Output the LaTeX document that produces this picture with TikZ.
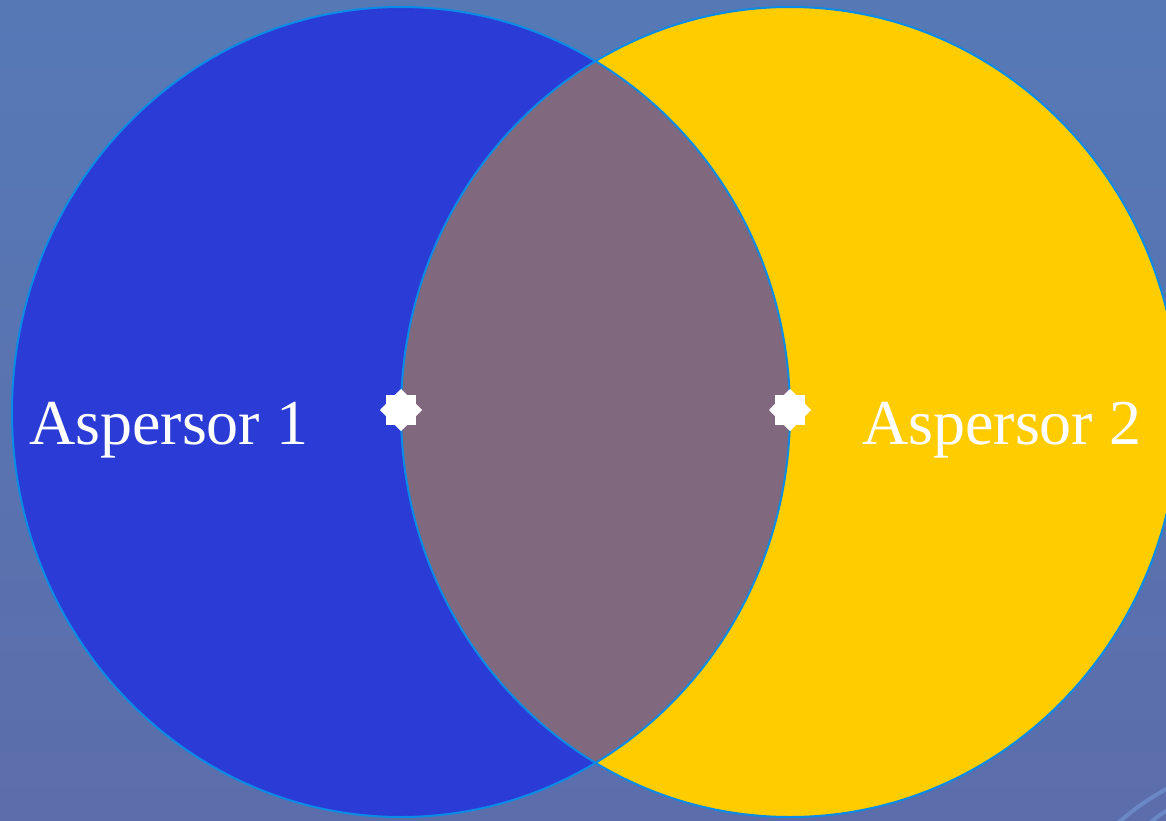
\documentclass[tikz,border=0pt]{standalone}
\usepackage{fontspec}
\setmainfont{Liberation Serif}
\usetikzlibrary{shapes.geometric}
\definecolor{bgtop}{HTML}{5679B6}
\definecolor{bgbot}{HTML}{5C6DAB}
\definecolor{cblue}{HTML}{2B3BD6}
\definecolor{cyellow}{HTML}{FFCC00}
\definecolor{clens}{HTML}{80687F}
\definecolor{cline}{HTML}{0A8CE6}
\definecolor{cfaint}{HTML}{6A88C6}
\tikzset{
  outline/.style={draw=cline, line width=2pt},
  marker/.style={star, star points=8, star point ratio=1.3, minimum size=42pt, inner sep=0pt, fill=white, draw=none},
  label/.style={text=white, font=\fontsize{64}{70}\selectfont, inner sep=0pt, anchor=base west}
}
\begin{document}
\begin{tikzpicture}[x=1pt,y=-1pt]
\useasboundingbox (0,0) rectangle (1166,821);
\shade[top color=bgtop, bottom color=bgbot] (0,0) rectangle (1166,821);
% faint background arcs
\draw[cfaint, line width=4pt] (1118,823) .. controls (1135,808) and (1150,798) .. (1168,788);
\draw[cfaint, line width=4pt] (1150,823) .. controls (1157,817) and (1162,813) .. (1168,810);
% circles
\fill[cblue] (401,412) ellipse [x radius=389, y radius=405];
\fill[cyellow] (790,412) ellipse [x radius=389, y radius=405];
\begin{scope}
  \clip (401,412) ellipse [x radius=389, y radius=405];
  \fill[clens] (790,412) ellipse [x radius=389, y radius=405];
\end{scope}
\draw[outline] (401,412) ellipse [x radius=389, y radius=405];
\draw[outline] (790,412) ellipse [x radius=389, y radius=405];
% markers
\node[marker] (s1) at (401,410) {};
\node[marker] (s2) at (790,410) {};
% labels
\node[label] (a1) at (29,444) {Aspersor 1};
\node[label] (a2) at (862,444) {Aspersor 2};
\end{tikzpicture}
\end{document}
